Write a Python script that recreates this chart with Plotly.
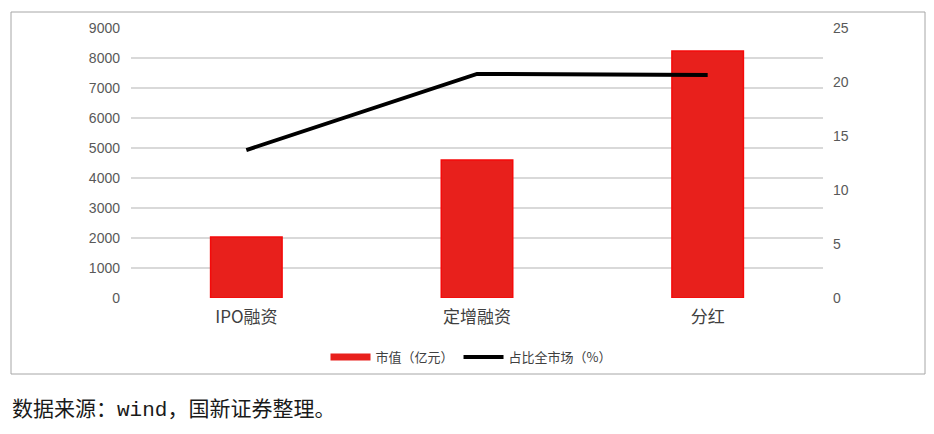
import plotly.graph_objects as go

categories = ["IPO融资", "定增融资", "分红"]
market_value = [2030, 4600, 8230]
share_pct = [13.7, 20.75, 20.65]
bar_name = "市值（亿元）"
line_name = "占比全市场（%）"
source_text = "数据来源：wind，国新证券整理。"

OFF = 8  # default body margin of the page
W, H = 934 - 2 * OFF, 434 - 2 * OFF
L, R, T, B = 131, 823, 28, 298  # plot area in page pixels


def px_x(p):
    return (p - L) / (R - L)


def px_y(p):
    return (B - p) / (B - T)


fig = go.Figure()
fig.add_trace(go.Bar(
    x=categories, y=market_value, name=bar_name, showlegend=False,
    marker=dict(color="#E8201C", line=dict(color="#F50A0A", width=1.5)),
    width=0.31, yaxis="y",
))
# legend entry for bar styled as wide swatch
fig.add_trace(go.Scatter(
    x=[None], y=[None], mode="lines", name=bar_name,
    line=dict(color="#E8201C", width=7), yaxis="y",
))
fig.add_trace(go.Scatter(
    x=categories, y=share_pct, name=line_name, mode="lines",
    line=dict(color="#000000", width=4), yaxis="y2",
))

fig.update_layout(
    width=W, height=H,
    margin=dict(l=L - OFF, r=W - (R - OFF), t=T - OFF, b=H - (B - OFF), pad=0),
    paper_bgcolor="white", plot_bgcolor="white",
    font=dict(family="Liberation Sans, Arial, Noto Sans CJK SC", color="#595959", size=14),
    xaxis=dict(
        showgrid=False, showline=False, ticks="",
        tickfont=dict(size=17, color="#404040", family="Noto Sans CJK SC"),
        ticklabelstandoff=7,
    ),
    yaxis=dict(
        range=[0, 9000], dtick=1000, showgrid=True, gridcolor="#D9D9D9", gridwidth=1.5,
        zeroline=False, showline=False, ticks="", ticklabelstandoff=10,
        tickfont=dict(size=14, color="#595959"),
    ),
    yaxis2=dict(
        range=[0, 25], dtick=5, overlaying="y", side="right", showgrid=False,
        zeroline=False, showline=False, ticks="", ticklabelstandoff=9,
        tickfont=dict(size=14, color="#595959"),
    ),
    legend=dict(
        orientation="h", x=px_x(471), y=px_y(357), xanchor="center", yanchor="middle",
        font=dict(size=13, color="#404040", family="Noto Sans CJK SC"),
        bgcolor="rgba(0,0,0,0)", itemwidth=40, tracegroupgap=0,
    ),
    shapes=[dict(
        type="rect", xref="paper", yref="paper",
        x0=px_x(11), x1=px_x(925), y0=px_y(374), y1=px_y(12),
        line=dict(color="#A6A6A6", width=1), fillcolor="rgba(0,0,0,0)", layer="below",
    )],
    annotations=[dict(
        text=source_text, xref="paper", yref="paper",
        x=px_x(10), y=px_y(410), xanchor="left", yanchor="middle", showarrow=False,
        font=dict(size=21, color="#1a1a1a", family="Liberation Mono, Noto Sans CJK SC"),
    )],
)

fig.write_html("out.html")
